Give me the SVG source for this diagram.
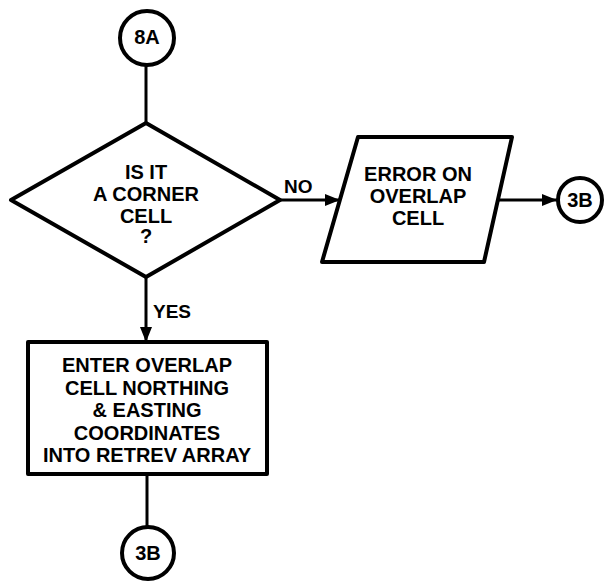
<svg xmlns="http://www.w3.org/2000/svg" width="605" height="583" viewBox="0 0 605 583">
<style>
.s{fill:#fff;stroke:#000;stroke-width:4;stroke-linejoin:round}
.c{fill:none;stroke:#000;stroke-width:3}
text{font-family:"Liberation Sans",Arial,sans-serif;font-weight:bold;font-size:20px;fill:#000;text-anchor:middle}
.l{text-anchor:start;font-size:19px}
</style>
<defs>
<marker id="a" viewBox="0 0 10 10" refX="10" refY="5" markerWidth="5" markerHeight="5" orient="auto" markerUnits="strokeWidth">
<path d="M0,1 L10,5 L0,9 z" fill="#000"/>
</marker>
</defs>
<g id="connectors">
<line class="c" x1="146" y1="65" x2="146" y2="123"/>
<line class="c" x1="280" y1="200" x2="340" y2="200" marker-end="url(#a)"/>
<line class="c" x1="498" y1="200" x2="557" y2="200" marker-end="url(#a)"/>
<line class="c" x1="146" y1="278" x2="146" y2="342" marker-end="url(#a)"/>
<line class="c" x1="147" y1="474" x2="147" y2="526"/>
<text class="l" x="284" y="193">NO</text>
<text class="l" x="153" y="318">YES</text>
</g>
<g id="n8A">
<circle class="s" cx="147" cy="38" r="27"/>
<text x="147" y="44">8A</text>
</g>
<g id="decision">
<polygon class="s" points="146,123 280,200 146,277 11,200"/>
<text x="146" y="179">IS IT</text>
<text x="146" y="201">A CORNER</text>
<text x="146" y="223">CELL</text>
<text x="146" y="243">?</text>
</g>
<g id="error">
<polygon class="s" points="358,137 512,137 484,262 322,262"/>
<text x="418" y="181">ERROR ON</text>
<text x="418" y="203">OVERLAP</text>
<text x="418" y="225">CELL</text>
</g>
<g id="n3Bright">
<circle class="s" cx="580" cy="200" r="22"/>
<text x="580" y="207">3B</text>
</g>
<g id="enter">
<rect class="s" x="28" y="342" width="239" height="132"/>
<text x="147" y="372">ENTER OVERLAP</text>
<text x="147" y="394.5">CELL NORTHING</text>
<text x="147" y="417">&amp; EASTING</text>
<text x="147" y="439.5">COORDINATES</text>
<text x="147" y="462">INTO RETREV ARRAY</text>
</g>
<g id="n3Bbottom">
<circle class="s" cx="148" cy="553" r="26"/>
<text x="148" y="560">3B</text>
</g>
</svg>
